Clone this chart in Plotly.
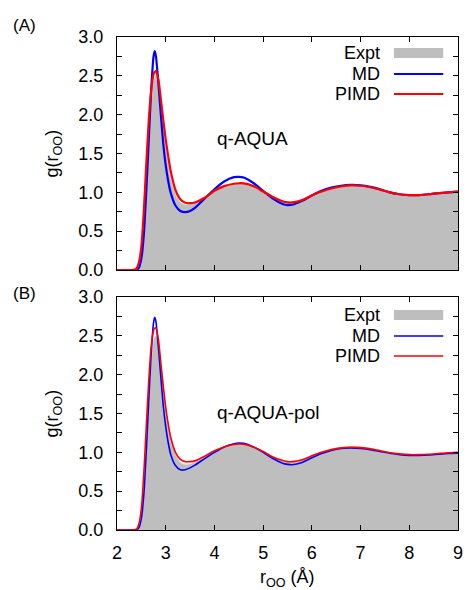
import plotly.graph_objects as go

# ---------------- data ----------------
r = [2.0, 2.3, 2.4, 2.45, 2.5, 2.55, 2.6, 2.65, 2.7, 2.75, 2.775, 2.8, 2.85, 2.9, 2.95,
     3.0, 3.05, 3.1, 3.2, 3.3, 3.4, 3.5, 3.6, 3.8, 4.0, 4.2, 4.4, 4.5, 4.6, 4.8, 5.0,
     5.2, 5.4, 5.5, 5.6, 5.8, 6.0, 6.2, 6.4, 6.6, 6.8, 7.0, 7.2, 7.4, 7.6, 7.8, 8.0,
     8.2, 8.4, 8.6, 8.8, 9.0]

expt = [0, 0, 0, 0.02, 0.12, 0.45, 1.0, 1.6, 2.1, 2.42, 2.48, 2.5, 2.4, 2.15, 1.85,
        1.58, 1.36, 1.18, 0.97, 0.87, 0.84, 0.845, 0.87, 0.94, 1.01, 1.07, 1.1, 1.107, 1.105, 1.07, 1.0,
        0.93, 0.88, 0.87, 0.87, 0.9, 0.955, 1.005, 1.04, 1.065, 1.075, 1.07, 1.055, 1.03, 1.0, 0.975, 0.96,
        0.96, 0.97, 0.985, 0.995, 1.0]

md_a = [0, 0, 0, 0.03, 0.15, 0.45, 1.0, 1.65, 2.3, 2.75, 2.82, 2.75, 2.4, 2.0, 1.62,
        1.35, 1.15, 1.0, 0.83, 0.76, 0.745, 0.76, 0.8, 0.92, 1.04, 1.14, 1.195, 1.2, 1.19, 1.12, 1.02,
        0.92, 0.85, 0.835, 0.84, 0.89, 0.96, 1.02, 1.06, 1.085, 1.095, 1.09, 1.07, 1.04, 1.0, 0.975, 0.965,
        0.965, 0.975, 0.99, 1.0, 1.01]

pimd_a = [0, 0, 0.02, 0.1, 0.3, 0.75, 1.35, 1.9, 2.3, 2.52, 2.55, 2.56, 2.45, 2.2, 1.93,
          1.68, 1.47, 1.28, 1.03, 0.91, 0.865, 0.86, 0.87, 0.93, 1.02, 1.08, 1.11, 1.117, 1.115, 1.08, 1.01,
          0.94, 0.885, 0.87, 0.87, 0.9, 0.96, 1.01, 1.05, 1.075, 1.09, 1.085, 1.065, 1.035, 1.0, 0.975, 0.965,
          0.965, 0.975, 0.99, 1.0, 1.01]

md_b = [0, 0, 0, 0.03, 0.15, 0.45, 1.0, 1.65, 2.25, 2.67, 2.74, 2.68, 2.35, 1.97, 1.6,
        1.33, 1.13, 0.98, 0.83, 0.775, 0.775, 0.8, 0.835, 0.92, 1.0, 1.07, 1.11, 1.12, 1.115, 1.07, 1.0,
        0.92, 0.86, 0.845, 0.84, 0.87, 0.93, 0.985, 1.025, 1.05, 1.057, 1.05, 1.035, 1.01, 0.99, 0.97, 0.96,
        0.96, 0.965, 0.975, 0.985, 0.99]

pimd_b = [0, 0, 0.01, 0.08, 0.28, 0.72, 1.32, 1.9, 2.35, 2.57, 2.6, 2.6, 2.45, 2.15, 1.85,
          1.58, 1.37, 1.2, 1.0, 0.91, 0.88, 0.88, 0.89, 0.95, 1.02, 1.07, 1.1, 1.107, 1.105, 1.07, 1.01,
          0.94, 0.895, 0.88, 0.88, 0.905, 0.955, 1.0, 1.035, 1.057, 1.065, 1.06, 1.045, 1.02, 0.995, 0.98, 0.97,
          0.97, 0.975, 0.985, 0.995, 1.0]

x_ticks = [2, 3, 4, 5, 6, 7, 8, 9]
y_ticks = [0.0, 0.5, 1.0, 1.5, 2.0, 2.5, 3.0]
y_tick_text = ["0.0", "0.5", "1.0", "1.5", "2.0", "2.5", "3.0"]
legend_names = ["Expt", "MD", "PIMD"]
panel_labels = ["(A)", "(B)"]
model_names = ["q-AQUA", "q-AQUA-pol"]

# ---------------- styling ----------------
W, H = 473, 590
L, R, T, B = 117, 10, 37, 60
GRAY = "#bebebe"
BLUE = "#0000ff"
RED = "#ff0000"
FONT = "Liberation Sans"
plot_h = H - T - B
plot_w = W - L - R

def py2paper(py):
    return (H - B - py) / plot_h

def px2paper(px):
    return (px - L) / plot_w

fig = go.Figure()

panels = [
    dict(xa="x", ya="y", md=md_a, pimd=pimd_a, lw=2.2),
    dict(xa="x2", ya="y2", md=md_b, pimd=pimd_b, lw=1.6),
]
for p in panels:
    fig.add_trace(go.Scatter(x=r, y=expt, mode="lines", fill="tozeroy", fillcolor=GRAY,
                             line=dict(color=GRAY, width=0.5, shape="spline", smoothing=0.6),
                             xaxis=p["xa"], yaxis=p["ya"], showlegend=False))
    fig.add_trace(go.Scatter(x=r, y=p["md"], mode="lines",
                             line=dict(color=BLUE, width=p["lw"], shape="spline", smoothing=0.6),
                             xaxis=p["xa"], yaxis=p["ya"], showlegend=False))
    fig.add_trace(go.Scatter(x=r, y=p["pimd"], mode="lines",
                             line=dict(color=RED, width=p["lw"], shape="spline", smoothing=0.6),
                             xaxis=p["xa"], yaxis=p["ya"], showlegend=False))

top_A, bot_A = 37, 270
top_B, bot_B = 297, 530

axis_common = dict(showline=True, linecolor="black", linewidth=1.3, mirror="ticks",
                   ticks="inside", ticklen=5, tickwidth=1, tickcolor="black",
                   showgrid=False, zeroline=False,
                   tickfont=dict(family=FONT, size=18, color="black"))

xa = dict(axis_common, range=[2, 9], tickvals=x_ticks, ticklabelstandoff=6)
ya = dict(axis_common, range=[0, 3], tickvals=y_ticks, ticktext=y_tick_text,
          ticklabelstandoff=9,
          minor=dict(dtick=0.25, ticks="inside", ticklen=5, tickcolor="black", showgrid=False))

fig.update_layout(
    width=W, height=H,
    margin=dict(l=L, r=R, t=T, b=B),
    paper_bgcolor="white", plot_bgcolor="white",
    xaxis=dict(xa, anchor="y", showticklabels=False, domain=[0, 1]),
    yaxis=dict(ya, anchor="x", domain=[py2paper(bot_A), py2paper(top_A)]),
    xaxis2=dict(xa, anchor="y2", domain=[0, 1]),
    yaxis2=dict(ya, anchor="x2", domain=[py2paper(bot_B), py2paper(top_B)]),
    font=dict(family=FONT, size=18, color="black"),
)

ann = []
shapes = []
label_y = [top_A - 11, top_B - 4]
for i, (top, bot) in enumerate([(top_A, bot_A), (top_B, bot_B)]):
    mid = (top + bot) / 2
    # panel label
    ann.append(dict(text=panel_labels[i], x=px2paper(9), y=py2paper(label_y[i]), xref="paper", yref="paper",
                    xanchor="left", yanchor="middle", showarrow=False, font=dict(size=17)))
    # y title
    ann.append(dict(text="g(r<sub>OO</sub>)", x=px2paper(53), y=py2paper(mid), xref="paper", yref="paper",
                    textangle=-90, xanchor="center", yanchor="middle", showarrow=False, font=dict(size=18)))
    # model name
    ann.append(dict(text=model_names[i], x=px2paper(216), y=py2paper(top + 101 if i == 0 else top + 115),
                    xref="paper", yref="paper", xanchor="left", yanchor="middle", showarrow=False,
                    font=dict(size=19)))
    # legend
    rows = [top + 16, top + 37, top + 57] if i == 0 else [top + 18, top + 39, top + 59]
    for j, name in enumerate(legend_names):
        ann.append(dict(text=name, x=px2paper(386), y=py2paper(rows[j]), xref="paper", yref="paper",
                        xanchor="right", yanchor="middle", showarrow=False, font=dict(size=18)))
    x0, x1 = px2paper(398), px2paper(448)
    shapes.append(dict(type="rect", xref="paper", yref="paper", x0=x0, x1=x1,
                       y0=py2paper(rows[0] + 5), y1=py2paper(rows[0] - 5),
                       fillcolor=GRAY, line=dict(width=0)))
    lw = 2.2 if i == 0 else 1.6
    shapes.append(dict(type="line", xref="paper", yref="paper", x0=x0, x1=x1,
                       y0=py2paper(rows[1]), y1=py2paper(rows[1]), line=dict(color=BLUE, width=lw)))
    shapes.append(dict(type="line", xref="paper", yref="paper", x0=x0, x1=x1,
                       y0=py2paper(rows[2]), y1=py2paper(rows[2]), line=dict(color=RED, width=lw)))

# x title
ann.append(dict(text="r<sub>OO</sub> (Å)", x=px2paper(290), y=py2paper(578), xref="paper", yref="paper",
                xanchor="center", yanchor="middle", showarrow=False, font=dict(size=18)))

fig.update_layout(annotations=ann, shapes=shapes)
fig.write_html("out.html")
